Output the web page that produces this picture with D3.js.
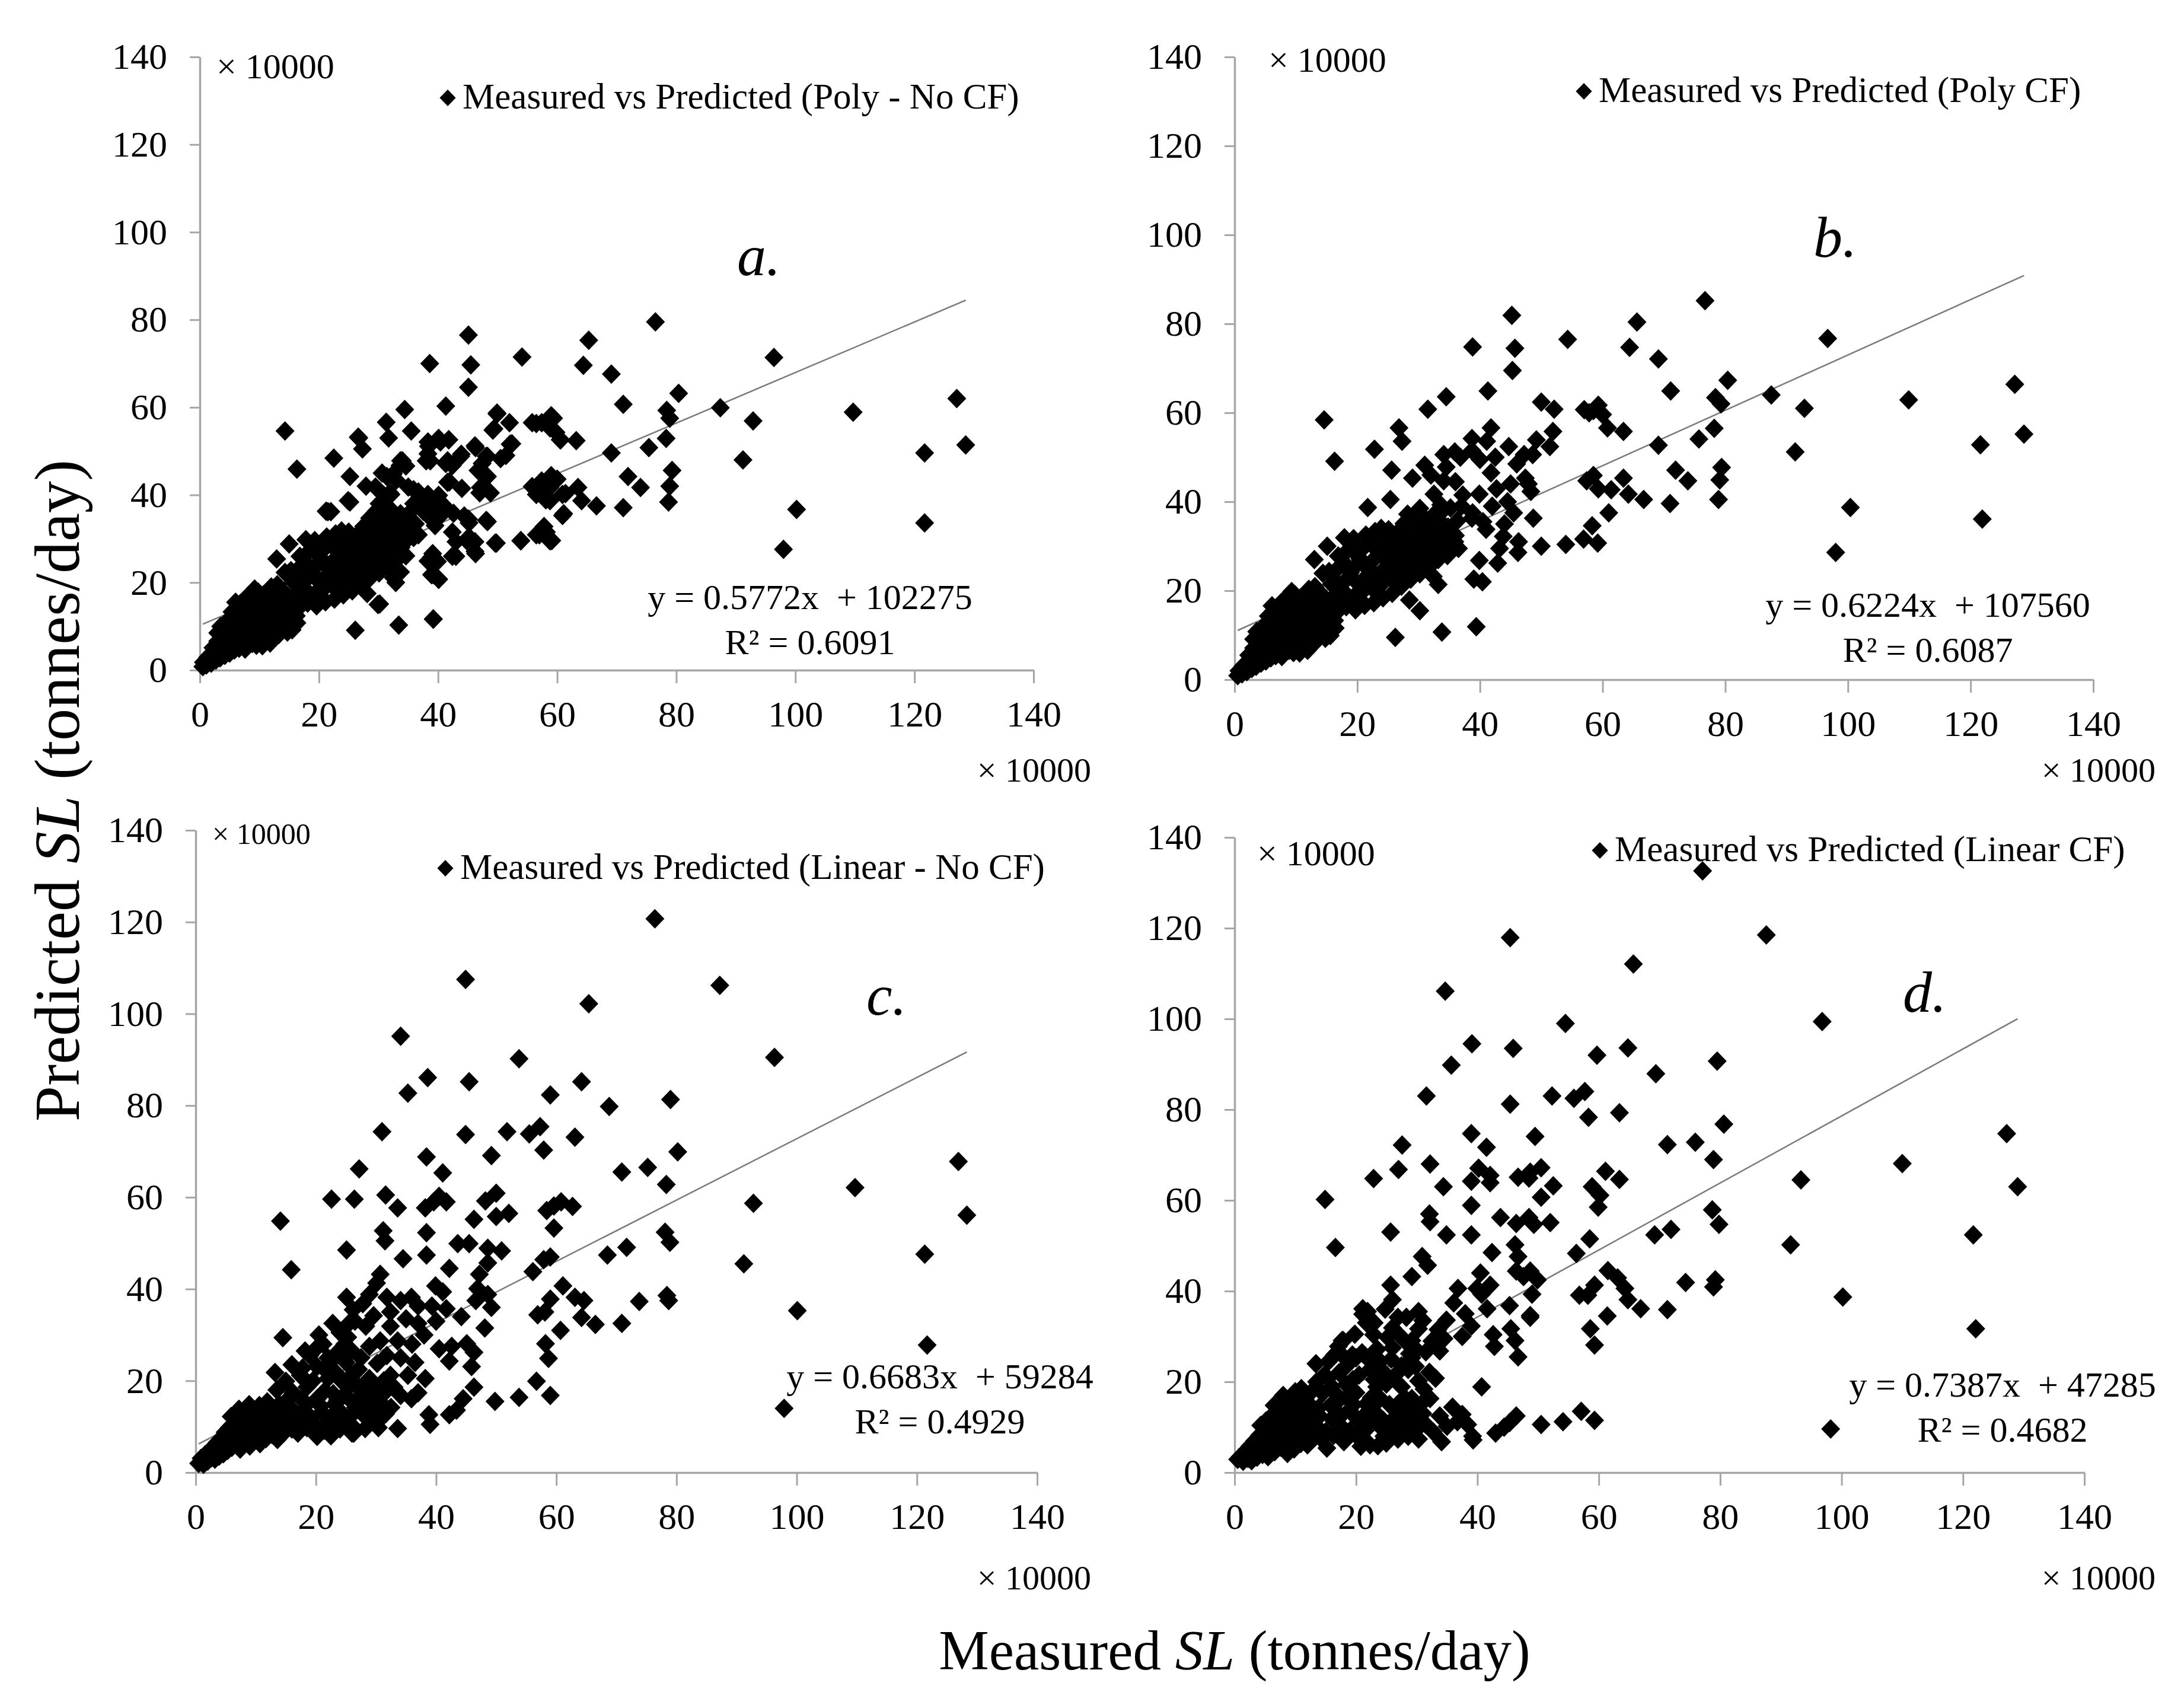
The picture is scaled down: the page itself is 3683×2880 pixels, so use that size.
<!DOCTYPE html>
<html lang="en">
<head>
<meta charset="UTF-8">
<title>Measured vs Predicted SL</title>
<script src="https://d3js.org/d3.v7.min.js"></script>
<style>
  body { margin: 0; background: #fff; }
</style>
</head>
<body>
<svg id="chart" width="3683" height="2880"></svg>
<script>
// tick values (x 10000 tonnes/day)
const xTicks = [0, 20, 40, 60, 80, 100, 120, 140];
const yTicks = [0, 20, 40, 60, 80, 100, 120, 140];

const legendLabels = [
  "Measured vs Predicted (Poly - No CF)",
  "Measured vs Predicted (Poly CF)",
  "Measured vs Predicted (Linear - No CF)",
  "Measured vs Predicted (Linear CF)"
];
const panelLetters = ["a.", "b.", "c.", "d."];

// trendline equations as printed on the chart
const slopes = [0.5772, 0.6224, 0.6683, 0.7387];
const intercepts = [102275, 107560, 59284, 47285];
const rSquared = ["0.6091", "0.6087", "0.4929", "0.4682"];

// [measured, predicted] in units of 10000 tonnes/day
const pointsA = [
  [0.5,0.8],[0.6,1.8],[1.1,1.2],[1.3,2.9],[1.9,1.6],[2.1,3.6],[2.2,5.1],[2.7,2.3],[2.9,4.2],[3.0,6.6],
  [3.4,2.8],[3.6,5.1],[3.7,7.7],[3.5,10.0],[4.2,3.4],[4.4,5.8],[4.3,8.2],[4.6,11.2],[5.0,3.9],[5.1,6.3],
  [5.2,8.8],[5.0,11.6],[5.4,13.3],[5.8,4.6],[5.9,6.9],[6.0,9.3],[5.9,12.2],[6.2,14.3],[6.6,5.0],[6.5,7.4],
  [6.7,9.9],[6.4,12.4],[6.8,15.2],[7.3,5.6],[7.2,7.9],[7.4,10.4],[7.1,13.1],[7.5,16.1],[7.6,4.8],[8.1,7.2],
  [8.0,9.8],[8.2,12.7],[7.9,15.0],[8.3,17.2],[8.8,6.1],[8.9,8.6],[8.7,11.3],[9.0,14.1],[8.8,16.6],[9.5,5.7],
  [9.6,8.2],[9.4,10.7],[9.7,13.3],[9.5,15.7],[9.8,17.8],[10.3,6.7],[10.2,9.2],[10.5,5.6],[10.4,12.1],[10.1,14.6],
  [10.6,17.1],[11.1,7.3],[10.9,10.1],[11.2,12.6],[11.0,15.2],[11.3,17.6],[11.8,6.2],[11.9,8.7],[11.7,11.2],[12.0,14.1],
  [11.9,16.4],[12.6,9.3],[12.4,12.2],[12.7,15.1],[12.5,17.3],[13.3,8.2],[13.2,11.1],[13.4,13.7],[13.1,16.2],[12.9,25.4],
  [14.1,9.6],[14.0,12.6],[14.2,15.3],[13.9,18.1],[14.3,22.3],[14.7,8.7],[14.8,11.2],[14.6,14.1],[15.0,28.8],[15.5,9.2],
  [15.6,13.1],[15.4,16.6],[15.7,20.1],[15.3,22.7],[16.3,10.8],[16.2,12.4],
  [3.0,8.5],[4.0,9.5],[6.0,15.5],[9.2,18.5],[13.0,19.5],[12.0,19.0],
  [16.6,14.2],[16.4,17.2],[16.7,20.3],[16.5,23.1],[16.8,26.0],[18.1,15.3],[17.9,18.2],[18.2,21.1],[18.0,24.2],[18.3,27.1],
  [17.8,29.8],[19.6,14.7],[19.4,17.6],[19.7,20.6],[19.5,23.7],[19.8,26.4],[19.3,29.6],[21.1,15.6],[20.9,18.7],[21.2,21.4],
  [21.0,24.6],[20.8,27.6],[21.3,30.4],[22.6,16.2],[22.4,19.1],[22.7,22.2],[22.5,25.1],[22.3,28.2],[22.8,31.1],[22.0,36.2],
  [24.1,17.2],[23.9,20.1],[24.2,23.2],[24.0,26.0],[24.3,29.1],[23.8,31.8],[25.6,18.1],[25.4,21.2],[25.7,24.1],[25.5,27.2],
  [25.3,30.2],[27.1,19.6],[26.9,22.6],[27.2,25.4],[27.0,28.6],[26.8,31.4],[28.6,21.1],[28.4,24.2],[28.7,27.1],[28.5,30.1],
  [28.3,32.8],[30.1,22.2],[29.9,25.1],[30.2,28.2],[30.0,31.0],[29.8,33.6],[31.6,23.6],[31.4,26.6],[31.7,29.4],[31.5,32.4],
  [33.1,25.2],[32.9,28.1],[33.2,31.1],[33.0,33.8],[34.6,26.1],[34.4,29.2],[34.7,32.1],[35.9,30.3],[36.2,33.4],
  [17.3,19.0],[18.8,22.5],[20.3,25.5],[21.8,23.0],[23.3,27.5],[24.8,25.0],[26.3,29.0],[27.8,26.5],[29.3,29.5],[30.8,27.0],
  [32.3,30.5],[33.8,28.0],[20.2,17.0],[23.0,18.5],[26.0,20.5],[29.0,23.0],[32.0,25.0],[17.2,16.0],[19.0,28.0],[22.0,29.5],
  [25.0,31.5],[27.5,32.8],[30.5,34.5],[33.5,35.0],
  [26.1,9.1],[33.4,10.3],[39.2,11.6],[28.1,17.5],[29.9,15.0],[32.5,21.1],[32.9,20.0],[33.7,22.4],[38.9,25.8],[38.3,24.9],
  [39.1,26.6],[38.9,21.8],[40.1,20.7],
  [45.1,76.5],[38.6,70.0],[45.5,69.7],[45.1,64.6],[54.1,71.5],[41.3,60.3],[49.9,58.5],[52.0,56.5],[49.4,55.1],[52.1,51.6],
  [46.2,51.2],[43.9,49.3],[47.4,47.2],[46.7,45.6],[48.1,48.8],[50.5,48.3],[34.4,59.5],[31.3,56.6],[35.5,54.6],[31.7,53.0],
  [26.7,53.0],[27.3,50.5],[22.5,48.4],[14.3,54.6],[16.3,45.9],[25.2,44.2],[21.5,36.2],[25.2,38.4],[27.9,42.0],[30.6,45.0],
  [31.4,44.2],[34.0,47.8],[33.6,46.7],[33.0,43.4],[29.5,41.8],[32.1,40.1],[30.1,38.0],[31.9,36.9],[30.9,35.8],[28.5,34.7],
  [35.9,41.2],[36.9,40.1],[38.3,52.1],[38.3,49.4],[38.7,47.8],[40.4,52.1],[41.8,52.6],[41.6,47.8],[42.4,46.7],[41.6,42.9],
  [39.9,39.6],[38.3,40.1],[39.1,37.4],[41.1,37.4],[42.6,35.8],[44.4,35.2],[45.2,33.6],[48.1,34.2],[42.4,31.5],[43.0,29.3],
  [45.2,30.4],[46.2,29.3],[46.2,27.1],[42.4,26.0],[49.6,29.0],[53.9,29.5],[56.5,30.9],[58.8,29.5],[57.8,32.8],[55.8,41.9],
  [57.4,43.2],[59.0,44.4],[56.5,40.1],[58.1,38.9],[60.9,40.1],[60.9,35.3],[55.8,56.5],[57.4,56.5],[59.0,58.1],[59.8,54.3],
  [60.6,52.6],[35.0,41.8],[36.7,40.7],[35.9,38.0],[37.5,36.3],[38.3,35.3],[35.9,33.6],[36.7,30.9],[34.9,35.5],[37.2,38.8],
  [39.5,33.0],[40.2,35.0],[44.0,41.5],[47.0,40.5],[48.3,44.2],[47.1,41.7],[48.8,40.5],[48.3,33.9],[45.1,34.5],[44.8,29.6],
  [43.0,26.0],[46.3,26.6],[39.9,24.8],[39.2,21.8],[40.1,20.8],[39.2,11.7],[30.2,15.1],[31.3,27.2],[35.6,30.9],[26.6,53.2],
  [24.9,38.7],[21.2,36.3],[37.5,39.3],[34.6,46.6],[33.7,47.8],[32.5,44.8],[29.6,36.3],[31.9,40.5],[30.9,39.9],[33.7,35.7],
  [31.9,35.1],
  [76.5,79.5],[65.3,75.3],[64.4,69.6],[69.1,67.6],[96.4,71.4],[80.4,63.2],[71.1,60.7],[87.4,59.9],[78.4,59.3],[78.9,57.5],
  [78.3,52.9],[75.4,50.8],[69.1,49.6],[92.9,56.9],[91.2,48.0],[109.7,58.9],[127.1,62.0],[128.6,51.4],[121.7,49.6],[121.7,33.6],
  [100.2,36.7],[98.0,27.6],[79.3,45.6],[78.9,42.0],[78.7,38.4],[71.9,44.2],[74.0,41.7],[71.1,37.1],[66.6,37.5],[63.5,41.7],
  [64.1,38.7],[61.1,35.7],[61.4,40.3],[59.1,29.6],[58.2,31.5],[57.0,30.9],[53.9,29.6],[49.8,29.0],[63.2,52.4],[60.5,52.6],
  [59.4,57.5],[56.5,56.3],[58.8,55.3],[58.8,41.7],[60.0,43.6],[57.0,41.1],[58.8,38.7],[49.9,58.7],[49.2,54.8],[52.4,51.7],
  [51.4,49.0],[48.3,48.8],[46.3,50.8],[43.8,48.8],[41.8,52.6],[40.1,52.9],[38.4,51.1],[38.0,47.8],[41.3,47.2],[41.9,43.0],
  [40.1,39.9],[38.9,38.7]
];

const pointsB = [
  [0.5,0.9],[0.7,2.0],[1.2,1.3],[1.4,3.1],[2.0,1.8],[2.2,3.9],[2.3,5.5],[2.8,2.5],[3.0,4.5],[3.1,7.1],
  [3.5,3.0],[3.7,5.5],[3.8,8.3],[3.6,10.8],[4.3,3.7],[4.5,6.2],[4.4,8.8],[4.7,12.0],[5.1,4.2],[5.2,6.8],
  [5.3,9.5],[5.1,12.5],[5.5,14.3],[5.9,4.9],[6.0,7.4],[6.1,10.0],[6.0,13.1],[6.3,15.4],[6.7,5.4],[6.6,8.0],
  [6.8,10.6],[6.5,13.3],[6.9,16.3],[7.4,6.0],[7.3,8.5],[7.5,11.2],[7.2,14.1],[7.6,17.3],[7.7,5.2],[8.2,7.7],
  [8.1,10.5],[8.3,13.6],[8.0,16.1],[8.4,18.4],[8.9,6.6],[9.0,9.2],[8.8,12.1],[9.1,15.1],[8.9,17.8],[9.6,6.1],
  [9.7,8.8],[9.5,11.5],[9.8,14.3],[9.6,16.8],[9.9,19.0],[10.4,7.2],[10.3,9.9],[10.6,6.0],[10.5,13.0],[10.2,15.7],
  [10.7,18.3],[11.2,7.8],[11.0,10.8],[11.3,13.5],[11.1,16.3],[11.4,18.8],[11.9,6.6],[12.0,9.3],[11.8,12.0],[12.1,15.1],
  [12.0,17.6],[12.7,10.0],[12.5,13.1],[12.8,16.2],[12.6,18.5],[13.4,8.8],[13.3,11.9],[13.5,14.7],[13.2,17.4],[13.0,27.0],
  [14.2,10.3],[14.1,13.5],[14.3,16.4],[14.0,19.4],[14.4,23.9],[14.8,9.3],[14.9,12.0],[14.7,15.1],[15.1,30.0],[15.6,9.9],
  [15.7,14.0],[15.5,17.8],[15.8,21.5],[15.4,24.3],[16.4,11.6],[16.3,13.3],
  [3.1,9.1],[4.1,10.2],[6.1,16.6],[9.3,19.8],[13.1,20.9],[12.1,20.3],
  [16.7,15.2],[16.5,18.4],[16.8,21.7],[16.6,24.7],[16.9,27.8],[18.2,16.4],[18.0,19.5],[18.3,22.6],[18.1,25.9],[18.4,29.0],
  [17.9,31.9],[19.7,15.7],[19.5,18.8],[19.8,22.0],[19.6,25.4],[19.9,28.2],[19.4,31.7],[21.2,16.7],[21.0,20.0],[21.3,22.9],
  [21.1,26.3],[20.9,29.5],[21.4,32.5],[22.7,17.3],[22.5,20.4],[22.8,23.8],[22.6,26.9],[22.4,30.2],[22.9,33.3],[21.7,38.7],
  [24.2,18.4],[24.0,21.5],[24.3,24.8],[24.1,27.8],[24.4,31.1],[23.9,34.0],[25.7,19.4],[25.5,22.7],[25.8,25.8],[25.6,29.1],
  [25.4,32.3],[27.2,21.0],[27.0,24.2],[27.3,27.2],[27.1,30.6],[26.9,33.6],[28.7,22.6],[28.5,25.9],[28.8,29.0],[28.6,32.2],
  [28.4,35.1],[30.2,23.8],[30.0,26.9],[30.3,30.2],[30.1,33.2],[29.9,36.0],[31.7,25.3],[31.5,28.5],[31.8,31.5],[31.6,34.7],
  [33.2,27.0],[33.0,30.1],[33.3,33.3],[33.1,36.2],[34.7,27.9],[34.5,31.2],[34.8,34.3],[36.0,32.4],[36.3,35.7],
  [17.4,20.2],[18.9,24.1],[20.4,27.2],[21.9,24.6],[23.4,29.4],[24.9,26.7],[26.4,31.0],[27.9,28.4],[29.4,31.6],[30.9,28.9],
  [32.4,32.6],[33.9,30.0],[20.3,18.2],[23.1,19.8],[26.1,21.9],[29.1,24.6],[32.1,26.8],[17.3,17.1],[19.1,30.0],[22.1,31.6],
  [25.1,33.7],[27.6,35.1],[30.6,36.9],[33.6,37.5],
  [26.2,9.5],[33.8,10.7],[39.4,11.9],[28.5,17.9],[30.2,15.5],[32.4,23.2],[33.2,21.4],[31.3,28.0],[38.7,36.3],[39.0,22.6],
  [40.4,22.0],[39.9,26.8],[42.9,26.2],[46.2,28.6],[43.2,29.5],[46.3,31.0],[43.8,32.2],[45.5,37.5],[48.7,36.3],[35.9,31.0],
  [38.8,37.5],[39.9,41.7],[42.7,42.9],[41.8,46.5],
  [45.2,81.9],[38.8,74.8],[45.7,74.5],[45.3,69.5],[54.3,76.5],[41.3,64.9],[34.5,63.6],[31.5,60.8],[14.6,58.4],[16.3,49.1],
  [26.8,56.6],[27.3,53.6],[22.8,51.8],[25.6,47.1],[29.0,45.3],[32.5,41.7],[33.6,39.3],[35.9,51.2],[34.1,50.6],[34.1,44.7],
  [25.4,40.5],[52.1,60.8],[50.0,62.4],[51.9,55.8],[49.2,53.9],[51.4,52.4],[48.6,50.6],[47.2,50.6],[44.7,52.4],[41.8,56.6],
  [41.1,53.6],[38.7,54.2],[38.7,51.5],[47.4,45.3],[48.3,42.3],[47.9,44.0],[44.5,40.0],[37.2,41.5],[36.0,44.5],[31.0,48.2],
  [30.2,38.5],[28.2,37.2],[33.0,37.8],[35.2,38.6],[37.0,39.0],[40.5,35.5],[42.0,39.0],[44.0,35.0],[36.5,29.5],[41.0,33.8],
  [29.5,36.5],[32.0,46.0],[34.5,47.8],[36.8,50.0],[40.0,49.5],[42.5,50.0],[46.0,48.5],[45.0,44.0],
  [76.7,85.2],[65.6,80.4],[64.4,74.7],[69.1,72.1],[96.7,76.7],[80.4,67.3],[71.1,64.9],[87.5,64.0],[78.4,63.4],[79.3,62.0],
  [78.2,56.5],[75.7,54.1],[69.1,52.7],[92.9,61.0],[91.4,51.2],[109.9,62.9],[127.2,66.4],[128.7,55.2],[121.6,52.8],[121.9,36.1],
  [100.4,38.7],[98.0,28.6],[79.4,47.7],[79.1,44.9],[78.9,40.5],[71.9,47.1],[73.9,44.7],[71.0,39.6],[66.7,40.5],[63.4,45.3],
  [64.2,41.7],[61.0,37.5],[61.4,42.7],[59.2,30.7],[58.3,34.6],[56.9,31.6],[54.0,30.4],[50.0,30.0],[63.4,55.8],[60.8,56.6],
  [59.3,61.7],[58.5,60.5],[57.0,60.7],[57.8,60.0],[60.0,59.6],[58.5,45.9],[57.4,44.7],[59.3,42.9]
];

const pointsC = [
  [0.5,2.0],[0.9,3.1],[1.3,1.8],[1.6,3.9],[2.0,2.5],[2.3,4.6],[2.6,3.2],[2.9,5.6],[3.2,2.9],[3.4,4.3],
  [3.6,6.6],[3.9,3.6],[4.1,5.2],[4.3,7.6],[4.6,4.1],[4.8,6.1],[4.9,8.8],[5.3,4.8],[5.5,7.1],[5.6,9.8],
  [6.0,5.5],[6.1,8.0],[6.3,10.6],[6.7,6.1],[6.8,8.6],[7.0,11.4],[7.4,5.1],[7.5,7.3],[7.6,9.6],[7.8,12.3],
  [8.2,6.4],[8.3,8.9],[8.4,11.2],[8.6,13.4],[9.0,5.8],[9.1,8.2],[9.2,10.4],[9.4,12.6],[9.8,7.0],[9.9,9.4],
  [10.1,11.7],[10.3,13.8],[10.7,6.3],[10.8,8.6],[11.0,10.9],[11.2,13.1],[11.7,7.4],[11.8,9.7],[12.0,12.0],[12.2,14.1],
  [12.7,8.3],[12.8,10.5],[13.0,12.8],[13.2,21.8],[13.6,7.2],[13.8,9.4],[14.0,11.6],[14.1,14.0],[14.5,29.4],[14.6,8.6],
  [14.8,10.8],[15.0,13.2],[5.9,12.2],[7.2,13.8],[8.9,14.8],[10.6,14.6],[11.9,15.4],
  [15.0,19.9],[13.9,14.9],[14.5,11.1],[12.7,10.5],[16.2,13.6],[16.2,17.4],[17.4,21.2],[18.5,18.6],[18.5,14.9],[18.5,9.8],
  [20.2,23.1],[20.2,16.1],[20.2,7.9],[21.4,9.2],[22.0,25.0],[22.0,20.5],[23.1,14.9],[23.1,10.5],[24.3,19.9],[25.5,16.1],
  [25.8,12.3],[26.0,21.2],[26.6,14.2],[27.2,18.6],[28.3,17.4],[28.9,20.5],[28.9,14.9],[30.1,13.6],[30.7,11.7],[27.5,25.0],
  [28.9,27.5],[30.7,28.7],[28.3,31.9],[25.1,38.2],[25.5,32.5],[28.9,38.8],[30.1,41.3],[30.7,43.2],[31.8,38.2],[32.4,35.0],
  [34.1,37.5],[35.9,38.2],[37.0,36.3],[37.0,32.5],[32.4,31.9],[33.6,28.7],[34.1,25.0],[32.4,21.2],[35.3,21.2],[33.0,18.6],
  [34.1,16.8],[37.0,17.4],[35.9,16.1],
  [16.8,11.5],[17.6,16.0],[17.0,8.6],[19.2,12.0],[19.5,20.0],[19.0,25.5],[21.0,13.2],[21.5,17.8],[21.8,22.0],[21.2,28.0],
  [22.5,8.0],[22.6,12.2],[22.9,17.2],[23.3,21.8],[23.8,26.5],[24.0,9.5],[24.3,13.0],[24.6,16.8],[25.0,24.0],[25.3,29.5],
  [26.2,10.0],[26.8,18.8],[27.1,22.5],[27.6,13.0],[27.9,15.9],[28.2,9.6],[29.4,12.0],[29.6,16.4],[29.9,19.0],[30.2,23.8],
  [31.0,15.0],[31.3,20.0],[31.6,12.8],[31.8,25.5],[26.5,33.0],[24.0,30.5],[22.8,32.5],[20.5,30.0],[18.2,26.5],[26.2,35.5],
  [29.6,34.2],[27.8,36.8],[24.8,28.0],[16.0,23.5],[17.8,22.8],[26.3,8.6],
  [16.0,9.5],[17.5,12.8],[18.0,20.5],[19.8,10.5],[20.8,14.5],[21.8,11.0],[23.6,15.8],[24.8,11.5],[25.6,18.8],[27.0,16.2],
  [28.6,12.0],[29.0,18.0],[30.4,9.8],[31.5,17.5],[32.5,14.2],[20.0,27.0],[22.5,24.2],[26.0,26.5],[15.5,16.2],[13.5,18.0],
  [76.4,120.7],[44.9,107.5],[87.2,106.2],[65.4,102.2],[34.1,95.1],[53.8,90.2],[96.3,90.5],[35.3,82.7],[38.6,86.1],[45.5,85.2],
  [64.2,85.2],[59.0,82.3],[68.8,79.8],[79.0,81.3],[31.0,74.3],[44.9,73.7],[51.8,74.3],[55.5,73.8],[57.3,75.4],[57.9,70.3],
  [63.1,73.1],[80.2,69.9],[27.2,66.2],[38.4,68.8],[41.1,65.3],[49.2,69.1],[70.9,65.5],[75.2,66.5],[78.3,62.8],[126.9,67.8],
  [109.7,62.1],[128.3,56.1],[92.8,58.7],[121.3,47.6],[91.2,45.5],[100.1,35.3],[121.7,27.8],[97.9,14.0],[22.6,59.6],[26.4,59.6],
  [31.6,60.5],[33.6,57.7],[14.1,54.8],[15.9,44.2],[25.1,48.5],[31.2,52.7],[31.5,50.5],[34.5,46.6],[38.4,52.3],[38.4,47.4],
  [38.2,57.7],[39.6,59.0],[40.5,60.2],[41.7,59.0],[42.2,44.5],[39.9,40.7],[41.1,39.4],[43.6,49.9],[45.5,49.9],[46.3,55.2],
  [48.2,59.2],[50.0,60.9],[50.0,55.8],[52.1,56.5],[48.6,48.9],[50.9,48.3],[48.6,45.7],[47.2,43.2],[46.9,40.1],[48.6,38.8],
  [49.2,36.0],[46.6,37.5],[44.2,34.0],[41.7,35.7],[39.3,36.3],[48.1,31.5],[45.1,28.1],[46.3,26.2],[45.9,23.1],[46.3,18.6],
  [42.6,27.5],[42.2,24.3],[44.5,16.1],[43.4,13.6],[42.2,12.6],[49.8,15.5],[53.8,16.4],[56.7,19.9],[59.0,16.8],[58.7,24.9],
  [58.2,28.1],[56.9,34.4],[58.1,35.0],[59.0,37.8],[56.1,43.8],[57.9,46.4],[59.0,47.0],[59.6,53.3],[58.4,57.1],[59.6,58.1],
  [60.8,59.0],[62.7,58.0],[61.1,40.7],[63.1,38.2],[64.6,37.5],[64.2,33.8],[60.7,31.0],[66.5,32.3],[70.9,32.5],[73.8,37.3],
  [71.7,49.1],[68.5,47.4],[78.1,52.4],[78.9,50.2],[78.4,38.6],[78.7,37.5],[38.8,12.6],[39.0,10.5],[33.6,9.6],[26.0,8.6],
  [36.0,28.0],[38.0,30.0],[40.0,33.0],[36.5,24.0],[38.2,20.5],[40.5,27.0],[35.0,33.5]
];

const pointsD = [
  [0.5,2.9],[1.0,3.6],[1.4,2.5],[1.8,4.6],[2.2,3.1],[2.5,5.8],[2.8,2.6],[3.1,4.3],[3.3,7.0],[3.7,3.4],
  [3.9,5.5],[4.1,8.2],[4.3,10.4],[4.6,4.0],[4.8,6.5],[5.0,9.1],[5.2,11.4],[5.5,3.5],[5.7,5.8],[5.9,8.1],
  [6.0,10.4],[6.2,12.6],[6.6,4.6],[6.7,7.0],[6.9,9.3],[7.0,11.7],[7.2,13.8],[7.6,5.6],[7.8,8.2],[7.9,10.6],
  [8.1,12.9],[8.3,15.1],[8.7,4.2],[8.8,6.7],[9.0,9.2],[9.1,11.6],[9.3,14.0],[9.5,16.0],[9.8,5.2],[9.9,7.8],
  [10.1,10.3],[10.3,12.7],[10.5,15.2],[10.9,6.4],[11.1,8.9],[11.2,11.3],[11.4,13.8],[11.6,16.2],[12.0,6.1],[12.1,10.0],
  [12.3,12.5],[12.5,14.8],
  [13.4,24.0],[15.4,20.8],[17.1,27.8],[17.9,29.1],[19.4,25.9],[20.0,17.6],[18.9,13.8],[17.7,10.0],[16.0,11.9],[14.3,7.4],
  [13.3,10.5],[13.8,14.2],[14.5,17.5],[15.2,5.4],[15.8,14.8],[16.3,8.2],[16.8,17.2],[17.2,22.0],[18.0,6.8],[18.4,19.4],
  [19.0,9.2],[19.6,15.0],[20.2,11.8],[20.5,21.5],[20.6,7.4],[21.1,34.9],[21.1,36.1],[21.7,33.0],[22.9,30.4],[23.4,27.2],
  [22.3,22.7],[24.6,22.1],[23.4,18.9],[21.7,15.1],[22.3,11.2],[22.3,6.1],[24.6,8.0],[25.7,11.2],[26.9,15.1],[27.5,18.9],
  [28.6,22.7],[29.8,23.4],[30.3,20.2],[29.2,16.3],[29.8,12.5],[28.0,9.3],[30.3,7.4],[31.5,10.6],[26.9,7.4],[25.2,29.8],
  [26.9,34.2],[29.2,29.1],[30.3,31.7],[31.5,26.6],[32.1,22.1],[23.0,13.5],[24.0,16.3],[25.0,19.5],[25.8,25.0],[26.5,21.5],
  [27.8,12.8],[28.8,26.2],[24.2,9.8],[21.0,26.4],[19.8,30.5],[18.5,23.6],[16.5,26.0],[14.8,21.5],[15.5,24.5],[21.5,9.2],
  [20.8,5.8],[23.6,5.9],[25.0,6.5],[27.2,10.4],[29.0,14.0],[30.8,15.2],[31.2,18.4],
  [13.0,7.5],[14.0,12.5],[15.0,9.0],[16.5,15.0],[17.5,12.5],[18.5,16.5],[19.5,20.5],[20.5,9.5],[21.5,12.8],[22.5,16.5],
  [23.0,20.5],[24.5,11.5],[25.5,15.0],[26.0,9.0],[27.0,13.0],[28.0,16.5],[29.0,11.0],[30.0,9.5],[31.0,13.0],[18.0,25.5],
  [16.0,19.0],[12.8,18.0],[11.0,18.5],[10.0,17.8],[8.0,17.0],[6.5,14.8],[13.5,20.0],
  [22.0,25.0],[24.0,24.5],[26.0,27.5],[27.5,23.5],[30.0,27.0],[32.5,29.0],[33.5,31.5],[31.0,33.5],[34.5,29.5],[23.0,33.0],
  [24.8,36.0],[27.0,30.5],
  [34.1,6.8],[33.8,12.5],[35.9,14.4],[38.4,10.6],[39.2,8.0],[39.3,7.2],[43.0,8.7],[44.4,10.0],[45.3,11.0],[46.4,12.5],
  [50.5,10.6],[54.1,11.2],[57.1,13.5],[59.3,11.5],[36.7,11.2],[28.6,8.0],[27.5,10.0],[32.7,9.0],[35.0,10.2],[37.5,12.8],
  [33.8,26.8],[33.1,20.8],[32.2,16.3],[40.7,18.9],[31.8,45.7],[30.9,47.6],[29.2,43.2],[30.3,35.5],[28.3,34.2],[25.7,41.3],
  [26.0,38.1],[26.0,31.9],[28.0,29.1],[29.2,25.3],[21.9,35.5],[23.5,27.2],[20.0,25.3],[17.7,29.1],
  [77.1,132.6],[45.4,117.9],[87.6,118.5],[65.7,112.1],[34.7,106.1],[54.5,99.0],[96.8,99.4],[39.1,94.5],[45.9,93.5],[35.7,89.8],
  [59.7,92.0],[64.8,93.6],[69.4,87.9],[79.5,90.7],[31.6,83.0],[45.4,81.2],[52.3,83.0],[55.9,82.5],[57.7,84.0],[58.3,78.3],
  [63.4,79.3],[80.6,76.8],[27.6,72.2],[27.0,66.8],[22.9,64.8],[39.0,74.7],[41.5,71.7],[32.2,68.0],[34.4,63.0],[39.0,64.2],
  [40.2,67.1],[42.1,65.5],[42.1,63.9],[46.7,65.1],[48.7,66.2],[50.5,67.2],[49.5,74.1],[52.5,63.2],[50.5,60.7],[48.5,64.9],
  [61.1,66.4],[58.9,63.0],[60.2,61.1],[63.4,64.6],[71.3,72.3],[75.9,72.8],[78.9,69.0],[110.0,68.1],[127.2,74.7],[93.3,64.5],
  [129.0,63.0],[121.7,52.4],[91.6,50.2],[100.2,38.7],[122.1,31.7],[98.2,9.6],[14.9,60.2],[16.6,49.6],[25.7,53.0],[32.1,57.0],
  [32.2,55.3],[34.9,52.4],[39.0,52.4],[39.0,58.9],[43.8,56.2],[42.4,48.5],[46.4,54.9],[48.5,56.2],[49.3,54.7],[46.7,47.6],
  [46.2,50.2],[46.4,44.4],[47.6,43.2],[48.7,44.4],[49.9,42.5],[49.0,39.3],[48.7,34.2],[52.0,55.1],[56.3,48.3],[58.5,51.5],
  [59.9,58.5],[59.3,41.3],[58.2,39.1],[56.8,39.1],[58.6,31.7],[59.3,28.1],[61.5,44.5],[63.1,42.9],[64.3,40.6],[64.8,38.1],
  [66.9,36.1],[61.4,34.5],[69.2,52.4],[71.9,53.6],[74.3,41.9],[71.3,35.9],[78.7,57.9],[79.8,54.7],[79.2,42.5],[78.9,40.9],
  [45.3,36.8],[45.5,31.7],[46.2,29.1],[46.7,25.5],[48.7,34.6],[42.6,30.4],[42.8,27.8],[42.1,41.3],[41.6,36.1],[40.7,39.3],
  [39.0,32.3],[39.9,40.6],[36.8,40.6],[36.1,37.4],[34.9,33.6],[37.5,30.0],[38.0,35.0],[40.5,44.0]
];

const allPoints = [pointsA, pointsB, pointsC, pointsD];

// plot area of each panel in page pixels
const layout = [
  { left: 337,  right: 1743, bottom: 1130, top: 96,
    legendX: 755,  legendY: 183,  letterX: 1243, letterY: 464,
    eqX: 1366, eqY: 1027, topUnitX: 365,  topUnitY: 132,  topUnitSize: 60,
    unitEndX: 1840, unitY: 1318 },
  { left: 2082, right: 3530, bottom: 1146, top: 96,
    legendX: 2671, legendY: 172,  letterX: 3058, letterY: 433,
    eqX: 3251, eqY: 1040, topUnitX: 2139, topUnitY: 121,  topUnitSize: 60,
    unitEndX: 3635, unitY: 1318 },
  { left: 330,  right: 1749, bottom: 2483, top: 1400,
    legendX: 751,  legendY: 1482, letterX: 1461, letterY: 1711,
    eqX: 1585, eqY: 2341, topUnitX: 358,  topUnitY: 1423, topUnitSize: 50,
    unitEndX: 1840, unitY: 2680 },
  { left: 2082, right: 3515, bottom: 2483, top: 1412,
    legendX: 2698, legendY: 1452, letterX: 3209, letterY: 1706,
    eqX: 3377, eqY: 2355, topUnitX: 2120, topUnitY: 1459, topUnitSize: 60,
    unitEndX: 3635, unitY: 2680 }
];

const serif = "'Liberation Serif', 'Times New Roman', serif";
const axisGrey = "#a6a6a6";
const diamond = "M0,-16.5L16,0L0,16.5L-16,0Z";
const fmt = d3.format(".4f");

const svg = d3.select("#chart");
svg.append("rect").attr("width", 3683).attr("height", 2880).attr("fill", "#fff");

function label(sel, x, y, size) {
  return sel.append("text")
    .attr("x", x).attr("y", y)
    .attr("font-family", serif).attr("font-size", size).attr("fill", "#000");
}

layout.forEach((p, i) => {
  const pts = allPoints[i];
  const x = d3.scaleLinear().domain([0, 140]).range([p.left, p.right]);
  const y = d3.scaleLinear().domain([0, 140]).range([p.bottom, p.top]);
  const g = svg.append("g");

  const xAxis = g.append("g")
    .attr("transform", `translate(0,${p.bottom})`)
    .call(d3.axisBottom(x).tickValues(xTicks).tickSizeInner(22).tickSizeOuter(0).tickPadding(29));
  const yAxis = g.append("g")
    .attr("transform", `translate(${p.left},0)`)
    .call(d3.axisLeft(y).tickValues(yTicks).tickSizeInner(17).tickSizeOuter(0).tickPadding(38));
  [xAxis, yAxis].forEach(a => {
    a.attr("font-family", serif).attr("font-size", 62);
    a.select(".domain").attr("stroke", axisGrey).attr("stroke-width", 3.5);
    a.selectAll(".tick line").attr("stroke", axisGrey).attr("stroke-width", 3);
    a.selectAll(".tick text").attr("fill", "#000").attr("font-family", serif).attr("font-size", 62);
  });

  // trendline over the range of the measured values
  const ext = d3.extent(pts, d => d[0]);
  const b = intercepts[i] / 10000;
  g.append("line")
    .attr("x1", x(ext[0])).attr("y1", y(slopes[i] * ext[0] + b))
    .attr("x2", x(ext[1])).attr("y2", y(slopes[i] * ext[1] + b))
    .attr("stroke", "#7a7a7a").attr("stroke-width", 2.5);

  g.append("g").selectAll("path")
    .data(pts)
    .join("path")
    .attr("d", diamond)
    .attr("transform", d => `translate(${x(d[0])},${y(d[1])})`)
    .attr("fill", "#000");

  // legend
  g.append("path").attr("d", diamond)
    .attr("transform", `translate(${p.legendX},${p.legendY - 18}) scale(0.85)`)
    .attr("fill", "#000");
  label(g, p.legendX + 25, p.legendY, 61).text(legendLabels[i]);

  // panel letter
  label(g, p.letterX, p.letterY, 98).attr("font-style", "italic").text(panelLetters[i]);

  // equation and R squared
  label(g, p.eqX, p.eqY, 60)
    .attr("text-anchor", "middle")
    .style("white-space", "pre")
    .text(`y = ${fmt(slopes[i])}x  + ${intercepts[i]}`);
  label(g, p.eqX, p.eqY + 76, 60)
    .attr("text-anchor", "middle")
    .text(`R\u00b2 = ${rSquared[i]}`);

  // unit multipliers
  label(g, p.topUnitX, p.topUnitY, p.topUnitSize).text("\u00d7 10000");
  label(g, p.unitEndX, p.unitY, 58).attr("text-anchor", "end").text("\u00d7 10000");
});

// shared axis titles
const yTitle = label(svg, 0, 0, 108)
  .attr("transform", "translate(133,1333) rotate(-90)")
  .attr("text-anchor", "middle");
yTitle.append("tspan").text("Predicted ");
yTitle.append("tspan").attr("font-style", "italic").text("SL");
yTitle.append("tspan").text(" (tonnes/day)");

const xTitle = label(svg, 2082, 2815, 95).attr("text-anchor", "middle");
xTitle.append("tspan").text("Measured ");
xTitle.append("tspan").attr("font-style", "italic").text("SL");
xTitle.append("tspan").text(" (tonnes/day)");
</script>
</body>
</html>
